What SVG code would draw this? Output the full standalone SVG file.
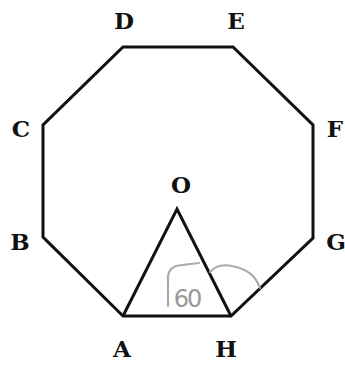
<svg xmlns="http://www.w3.org/2000/svg" width="345" height="365" viewBox="0 0 345 365">
<style>
.lbl{font-family:"DejaVu Serif","Liberation Serif",serif;font-weight:bold;font-size:23px;fill:#111;text-anchor:middle}
.edge{fill:none;stroke:#111;stroke-width:3;stroke-linejoin:miter}
.hand{fill:none;stroke:#aaa;stroke-width:2.2;stroke-linecap:round}
</style>
<rect width="345" height="365" fill="#fff"/>
<g id="connectors">
<polygon class="edge" points="123,316 43,237 43,125 123,47 233,47 313,125 313,238 231,316"/>
<polyline class="edge" points="123,316 177,209 231,316"/>
</g>
<g id="annotation">
<path class="hand" d="M168,306 L168,278 Q168,266 182,265 L199,263"/>
<path class="hand" d="M210,272 Q218,263 232,266 Q254,270 260,288"/>
<text x="187" y="307" font-family="'DejaVu Sans',sans-serif" font-size="24" fill="#999" text-anchor="middle" letter-spacing="-2">60</text>
</g>
<g id="A"><text class="lbl" x="122" y="357">A</text></g>
<g id="B"><text class="lbl" x="20" y="250">B</text></g>
<g id="C"><text class="lbl" x="21" y="137">C</text></g>
<g id="D"><text class="lbl" x="124" y="29">D</text></g>
<g id="E"><text class="lbl" x="236" y="29">E</text></g>
<g id="F"><text class="lbl" x="335" y="137">F</text></g>
<g id="G"><text class="lbl" x="336" y="250">G</text></g>
<g id="H"><text class="lbl" x="226" y="357">H</text></g>
<g id="O"><text class="lbl" x="181" y="193">O</text></g>
</svg>
